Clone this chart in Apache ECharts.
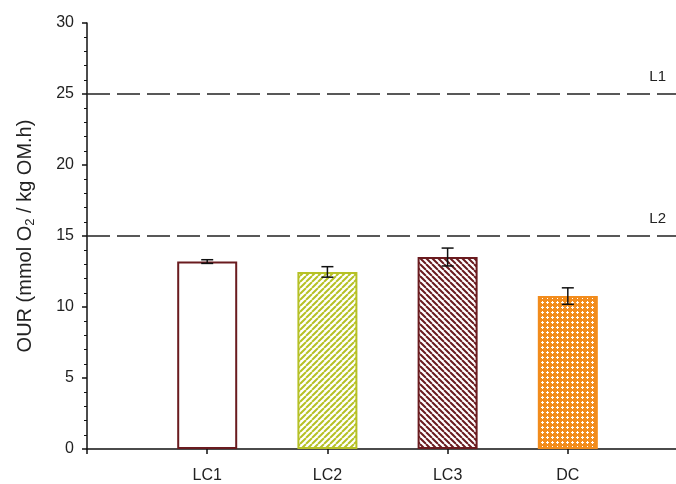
<!DOCTYPE html>
<html>
<head>
<meta charset="utf-8">
<script src="https://cdn.jsdelivr.net/npm/echarts@6/dist/echarts.min.js"></script>
<style>
  html, body { margin: 0; padding: 0; background: #fff; }
  #chart { width: 676px; height: 484px; }
</style>
</head>
<body>
<div id="chart"></div>
<script>
// Oxygen uptake rate per treatment
const categories = ['LC1', 'LC2', 'LC3', 'DC'];
const ourMeans = [13.2, 12.47, 13.52, 10.77];
const ourErrors = [0.13, 0.37, 0.63, 0.58];
const limitValues = [25, 15];
const limitLabels = ['L1', 'L2'];

// Fill patterns for the bars
function hatch(color, dir, period, width) {
  const c = document.createElement('canvas');
  c.width = period; c.height = period;
  const g = c.getContext('2d');
  g.fillStyle = '#fff';
  g.fillRect(0, 0, period, period);
  g.strokeStyle = color;
  g.lineWidth = width;
  g.beginPath();
  for (let k = -1; k <= 1; k++) {
    if (dir > 0) {
      g.moveTo(k * period, period); g.lineTo(k * period + period, 0);
    } else {
      g.moveTo(k * period, 0); g.lineTo(k * period + period, period);
    }
  }
  g.stroke();
  return { image: c, repeat: 'repeat' };
}
function crossDots(color) {
  const p = 5;
  const c = document.createElement('canvas');
  c.width = p; c.height = p;
  const g = c.getContext('2d');
  g.fillStyle = color;
  g.fillRect(0, 0, p, p);
  g.fillStyle = '#fff';
  g.fillRect(2, 1, 1, 3);
  g.fillRect(1, 2, 3, 1);
  return { image: c, repeat: 'repeat' };
}

const barStyles = [
  { color: '#ffffff', borderColor: '#6a1b1f' },
  { color: hatch('#b6c126', 1, 6, 2), borderColor: '#b6c126' },
  { color: hatch('#6a1b1f', -1, 6, 2), borderColor: '#6a1b1f' },
  { color: crossDots('#f28c1c'), borderColor: '#f28c1c' }
];

const barData = categories.map((name, i) => ({
  value: [i + 1, ourMeans[i]],
  itemStyle: Object.assign({ borderWidth: 2 }, barStyles[i])
}));
const errData = categories.map((name, i) => [i + 1, ourMeans[i] - ourErrors[i], ourMeans[i] + ourErrors[i]]);

const chart = echarts.init(document.getElementById('chart'), null, { renderer: 'canvas' });
const fontFamily = '"Liberation Sans", Arial, sans-serif';

chart.setOption({
  animation: false,
  backgroundColor: '#ffffff',
  grid: { left: 87, right: 0, top: 23, bottom: 33, containLabel: false },
  xAxis: {
    type: 'value',
    min: 0, max: 4.9, interval: 1,
    axisLine: { show: true, lineStyle: { color: '#111', width: 1.5 } },
    axisTick: { show: true, length: 5, lineStyle: { color: '#111', width: 1.5 } },
    axisLabel: {
      color: '#222', fontSize: 16, fontFamily, margin: 19,
      formatter: v => categories[Math.round(v) - 1] || '',
      showMaxLabel: false
    },
    splitLine: { show: false }
  },
  yAxis: {
    type: 'value',
    min: 0, max: 30, interval: 5,
    name: 'OUR (mmol O{sub|2} / kg OM.h)',
    nameLocation: 'middle',
    nameGap: 50,
    nameTextStyle: {
      color: '#222', fontSize: 20, fontFamily,
      rich: { sub: { fontSize: 13, fontFamily, color: '#222', padding: [10, 0, 0, 0] } }
    },
    axisLine: { show: true, lineStyle: { color: '#111', width: 1.5 } },
    axisTick: { show: true, length: 5, lineStyle: { color: '#111', width: 1.5 } },
    minorTick: { show: true, splitNumber: 5, length: 3, lineStyle: { color: '#111', width: 1 } },
    axisLabel: { color: '#222', fontSize: 16, fontFamily, margin: 13 },
    splitLine: { show: false }
  },
  series: [
    {
      type: 'bar',
      barWidth: 60,
      data: barData,
      markLine: {
        silent: true,
        symbol: 'none',
        lineStyle: { color: '#222', width: 1.5, type: [23, 7] },
        label: {
          show: true, position: 'insideEndTop', distance: [10, 10],
          color: '#222', fontSize: 15, fontFamily,
          formatter: p => p.name
        },
        data: limitValues.map((v, i) => ({ yAxis: v, name: limitLabels[i] }))
      },
      z: 2
    },
    {
      type: 'custom',
      data: errData,
      z: 5,
      renderItem: (params, api) => {
        const x = api.value(0);
        const lo = api.coord([x, api.value(1)]);
        const hi = api.coord([x, api.value(2)]);
        const cap = 6;
        const style = { stroke: '#111', lineWidth: 1.5, fill: null };
        return {
          type: 'group',
          children: [
            { type: 'line', shape: { x1: lo[0], y1: lo[1], x2: hi[0], y2: hi[1] }, style },
            { type: 'line', shape: { x1: lo[0] - cap, y1: lo[1], x2: lo[0] + cap, y2: lo[1] }, style },
            { type: 'line', shape: { x1: hi[0] - cap, y1: hi[1], x2: hi[0] + cap, y2: hi[1] }, style }
          ]
        };
      }
    }
  ]
});
</script>
</body>
</html>
